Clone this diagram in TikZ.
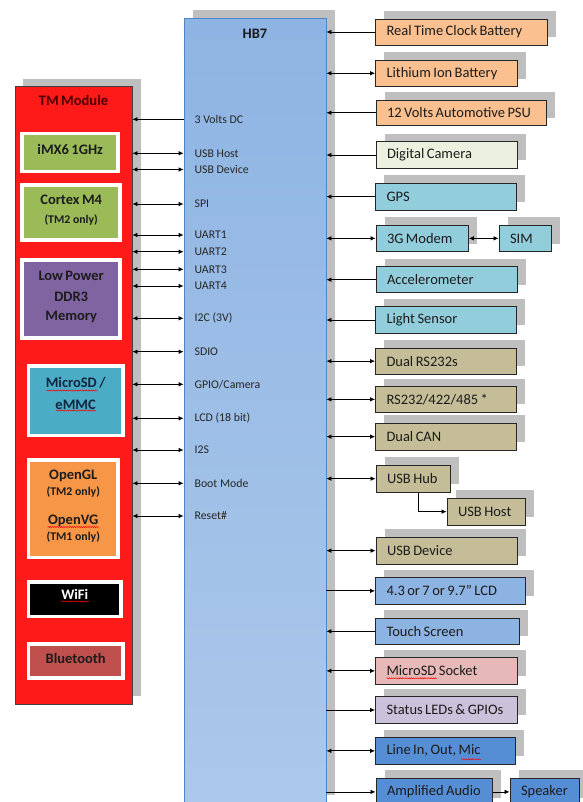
\documentclass[tikz,border=0pt]{standalone}
\usepackage{fontspec}
\setmainfont{Carlito}
\usetikzlibrary{arrows.meta,shadows,decorations.pathmorphing}
\definecolor{shgray}{HTML}{BFBFBF}
\definecolor{corange}{HTML}{FAC090}
\definecolor{ccam}{HTML}{EBF1DE}
\definecolor{cteal}{HTML}{92CDDC}
\definecolor{ctan}{HTML}{C4BD97}
\definecolor{clcd}{HTML}{8DB3E2}
\definecolor{cpink}{HTML}{E6B9B8}
\definecolor{clav}{HTML}{CCC1DA}
\definecolor{cblue}{HTML}{558ED5}
\definecolor{cred}{HTML}{FF1A1A}
\definecolor{cgreen}{HTML}{9BBB59}
\definecolor{cpurple}{HTML}{8064A2}
\definecolor{cdteal}{HTML}{4BACC6}
\definecolor{cdorange}{HTML}{F79646}
\definecolor{cbt}{HTML}{C0504D}
\definecolor{hbtop}{HTML}{8EB4E3}
\definecolor{hbbot}{HTML}{ACC8EA}
\definecolor{hbline}{HTML}{4A86C8}
\definecolor{txt}{HTML}{1C1C1C}
\definecolor{lbl}{HTML}{262626}
\definecolor{tmtxt}{HTML}{4A0000}
\definecolor{sdtxt}{HTML}{10253F}
\newcommand\rbfont{\fontsize{14.5bp}{17bp}\selectfont\spaceskip=0.17em plus 0.05em\relax}
\newcommand\smfont{\fontsize{11.8bp}{14bp}\selectfont}
\newcommand\rbx[7]{%
  \pgfmathsetmacro\rbw{#4-#2}\pgfmathsetmacro\rbh{#5-#3}\pgfmathsetmacro\rbt{#4-#2-22}%
  \node[rbox, fill=#6, minimum width=\rbw bp, minimum height=\rbh bp]
    (#1) at ({(#2+#4)/2},{(#3+#5)/2}) {\makebox[\rbt bp][l]{#7}};}
\newcommand\lbx[6]{% name x1 y1 x2 y2 color
  \pgfmathsetmacro\rbw{#4-#2-3.7}\pgfmathsetmacro\rbh{#5-#3-3.7}%
  \node[lbox, fill=#6, minimum width=\rbw bp, minimum height=\rbh bp]
    (#1) at ({(#2+#4)/2},{(#3+#5)/2}) {};}
\begin{document}
\begin{tikzpicture}[x=1bp,y=-1bp,
  sh/.style={drop shadow={shadow xshift=8.5bp,shadow yshift=8bp,fill=shgray,opacity=1}},
  rbox/.style={draw=black!85, line width=0.9bp, sh, inner xsep=0pt, inner ysep=0pt,
    font=\rbfont, text=txt},
  lbox/.style={draw=white, line width=3.7bp, inner sep=0pt},
  ltxt/.style={font=\rbfont\bfseries, text=txt, inner sep=0pt},
  lsm/.style={font=\smfont\bfseries, text=txt, inner sep=0pt},
  hlbl/.style={anchor=west, font=\smfont, text=lbl, inner sep=0pt},
  arr/.style={-{Latex[length=5bp,width=4.6bp]}, line width=0.8bp, black},
  dbl/.style={{Latex[length=5bp,width=4.6bp]}-{Latex[length=5bp,width=4.6bp]}, line width=0.8bp, black},
  squig/.style={draw=red, line width=0.45bp, decorate, decoration={snake, amplitude=0.6bp, segment length=2.2bp}}
]
\useasboundingbox (0,0) rectangle (583,802);
\clip (0,0) rectangle (583,802);

% HB7 main block
\node[sh, draw=hbline, line width=0.8bp, top color=hbtop, bottom color=hbbot,
  minimum width=142bp, minimum height=785bp, inner sep=0pt] (hb) at (255,410.7) {};
\node[font=\rbfont\bfseries, text=txt, inner sep=0pt] (hbt) at (255,34) {HB7};

% HB7 labels
\node[hlbl] (l3v) at (194.4,119.3) {3 Volts DC};
\node[hlbl] (lush) at (194.4,153.3) {USB Host};
\node[hlbl] (lusd) at (194.4,169.5) {USB Device};
\node[hlbl] (lspi) at (194.4,204) {SPI};
\node[hlbl] (lu1) at (194.4,235) {UART1};
\node[hlbl] (lu2) at (194.4,251.7) {UART2};
\node[hlbl] (lu3) at (194.4,269.3) {UART3};
\node[hlbl] (lu4) at (194.4,286) {UART4};
\node[hlbl] (li2c) at (194.4,318.3) {I2C (3V)};
\node[hlbl] (lsdio) at (194.4,351.7) {SDIO};
\node[hlbl] (lgpio) at (194.4,384.3) {GPIO/Camera};
\node[hlbl] (llcd) at (194.4,418.3) {LCD (18 bit)};
\node[hlbl] (li2s) at (194.4,450) {I2S};
\node[hlbl] (lboot) at (194.4,483.3) {Boot Mode};
\node[hlbl] (lrst) at (194.4,516) {Reset\#};

% TM module
\node[sh, draw=black!75, line width=0.9bp, fill=cred, minimum width=117bp,
  minimum height=617.6bp, inner sep=0pt] (tm) at (73.5,395.5) {};
\node[font=\rbfont\bfseries, text=tmtxt, inner sep=0pt] (tmt) at (73.5,100) {TM Module};

\lbx{imx}{20.4}{131.7}{120}{173.3}{cgreen}
\node[ltxt] (imxt) at (imx |- 0,149.5) {iMX6 1GHz};
\lbx{ctx}{20.4}{183.3}{122}{241.7}{cgreen}
\node[ltxt] (ctxa) at (ctx |- 0,200) {Cortex M4};
\node[lsm] (ctxb) at (ctx |- 0,220) {(TM2 only)};
\lbx{ddr}{20.4}{258.3}{122}{340}{cpurple}
\node[ltxt] (ddra) at (ddr |- 0,276) {Low Power};
\node[ltxt] (ddrb) at (ddr |- 0,296.7) {DDR3};
\node[ltxt] (ddrc) at (ddr |- 0,316.7) {Memory};
\lbx{sd}{26.8}{364}{124.5}{437.3}{cdteal}
\node[ltxt, text=sdtxt] (sda) at (sd |- 0,383) {MicroSD /};
\node[ltxt, text=sdtxt] (sdb) at (sd |- 0,405) {eMMC};
\lbx{gl}{26.8}{458.3}{119.7}{559.3}{cdorange}
\node[ltxt] (gla) at (gl |- 0,476) {OpenGL};
\node[lsm] (glb) at (gl |- 0,491.7) {(TM2 only)};
\node[ltxt] (glc) at (gl |- 0,520.7) {OpenVG};
\node[lsm] (gld) at (gl |- 0,536.7) {(TM1 only)};
\lbx{wifi}{26.8}{580}{122.7}{618.3}{black}
\node[ltxt, text=white] (wifit) at (wifi |- 0,594) {WiFi};
\lbx{bt}{26.8}{642.3}{124.5}{680}{cbt}
\node[ltxt] (btt) at (bt |- 0,658.3) {Bluetooth};

% right-hand boxes
\rbx{rtc}{375.5}{19}{547}{45}{corange}{Real Time Clock Battery}
\rbx{lith}{375.5}{60}{517}{86.5}{corange}{Lithium Ion Battery}
\rbx{psu}{376}{100}{546.5}{125.5}{corange}{12 Volts Automotive PSU}
\rbx{cam}{376}{141.7}{517}{168.3}{ccam}{Digital Camera}
\rbx{gps}{375.5}{183.3}{516}{210}{cteal}{GPS}
\rbx{modem}{376}{225}{468.4}{251.7}{cteal}{3G Modem}
\rbx{sim}{499}{225}{551}{251.7}{cteal}{SIM}
\rbx{acc}{376}{266.7}{517}{292.7}{cteal}{Accelerometer}
\rbx{light}{375.5}{306.7}{516}{333.3}{cteal}{Light Sensor}
\rbx{rsa}{375.5}{348.3}{516}{374}{ctan}{Dual RS232s}
\rbx{rsb}{375.5}{386.7}{516}{412}{ctan}{RS232/422/485 *}
\rbx{can}{375.5}{423.3}{516}{450}{ctan}{Dual CAN}
\rbx{hub}{376}{465}{450}{492.3}{ctan}{USB Hub}
\rbx{uhost}{447}{498.3}{525}{525}{ctan}{USB Host}
\rbx{udev}{376}{537.3}{517}{564}{ctan}{USB Device}
\rbx{lcd}{375.5}{577.7}{525}{604}{clcd}{4.3 or 7 or 9.7” LCD}
\rbx{touch}{375.5}{618.3}{519}{644.3}{clcd}{Touch Screen}
\rbx{sdsock}{375.5}{657.7}{517}{684}{cpink}{MicroSD Socket}
\rbx{leds}{375.5}{696.7}{517}{723.3}{clav}{Status LEDs \& GPIOs}
\rbx{line}{375.5}{737.7}{515}{764}{cblue}{Line In, Out, Mic}
\rbx{amp}{376}{778.3}{492.5}{805.5}{cblue}{Amplified Audio}
\rbx{spk}{510}{778.3}{579}{805.5}{cblue}{Speaker}

% left connectors
\draw[arr] (hb.west |- l3v) -- (tm.east |- l3v);
\foreach \n in {lush,lusd,lspi,lu1,lu2,lu3,lu4,li2c,lsdio,lgpio,llcd,li2s,lboot,lrst}
  \draw[dbl] (tm.east |- \n) -- (hb.west |- \n);

% right connectors
\draw[arr] (rtc.west) -- (hb.east |- rtc.west);
\draw[dbl] (hb.east |- lith.west) -- (lith.west);
\draw[arr] (psu.west) -- (hb.east |- psu.west);
\draw[arr] (cam.west) -- (hb.east |- cam.west);
\draw[arr] (gps.west) -- (hb.east |- gps.west);
\draw[dbl] (hb.east |- modem.west) -- (modem.west);
\draw[dbl] (modem.east) -- (sim.west);
\draw[arr] (acc.west) -- (hb.east |- acc.west);
\draw[arr] (light.west) -- (hb.east |- light.west);
\draw[dbl] (hb.east |- rsa.west) -- (rsa.west);
\draw[dbl] (hb.east |- rsb.west) -- (rsb.west);
\draw[dbl] (hb.east |- can.west) -- (can.west);
\draw[dbl] (hb.east |- hub.west) -- (hub.west);
\draw[arr] ([xshift=5bp]hub.south) |- (uhost.west);
\draw[dbl] (hb.east |- udev.west) -- (udev.west);
\draw[arr] (hb.east |- lcd.west) -- (lcd.west);
\draw[arr] (touch.west) -- (hb.east |- touch.west);
\draw[dbl] (hb.east |- sdsock.west) -- (sdsock.west);
\draw[arr] (hb.east |- leds.west) -- (leds.west);
\draw[dbl] (hb.east |- line.west) -- (line.west);
\draw[arr] (hb.east |- amp.west) -- (amp.west);
\draw[arr] (amp.east) -- (spk.west);

% spell-check underlines
\draw[squig] (46.5,390.5) -- (97.4,390.5);
\draw[squig] (55.8,410.5) -- (96,410.5);
\draw[squig] (47.6,527) -- (98.5,527);
\draw[squig] (61,601.5) -- (89,601.5);
\draw[squig] (386.6,678.3) -- (436.8,678.3);
\draw[squig] (461,759.3) -- (481,759.3);
\end{tikzpicture}
\end{document}
